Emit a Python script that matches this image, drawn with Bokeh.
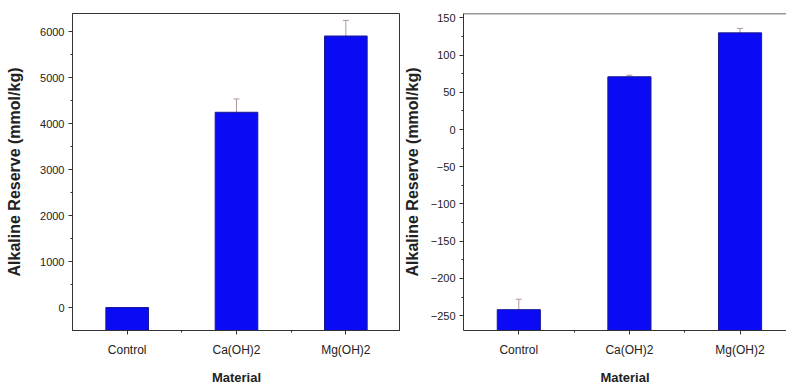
from bokeh.plotting import figure
from bokeh.layouts import row
from bokeh.models import ColumnDataSource, Whisker, TeeHead, FixedTicker, Range1d, Span
from bokeh.embed import file_html
from bokeh.resources import INLINE

materials = ["Control", "Ca(OH)2", "Mg(OH)2"]
left_values = [0, 4250, 5910]
left_errors = [0, 290, 340]
right_values = [-242, 71, 130]
right_errors = [14, 2, 6]
left_ticks = [0, 1000, 2000, 3000, 4000, 5000, 6000]
right_ticks = [-250, -200, -150, -100, -50, 0, 50, 100, 150]

FONT = "Liberation Sans"
BAR = "#0a0af5"
ERR = "#b0959c"


def make_panel(values, errors, yticks, ystart, yend, xend, width, border_left, standoff, full_frame):
    x = [i + 1 for i in range(len(materials))]
    src = ColumnDataSource(dict(
        x=x, top=values,
        upper=[v + e for v, e in zip(values, errors)],
        lower=[v - e for v, e in zip(values, errors)],
    ))
    p = figure(width=width, height=387, output_backend="svg", toolbar_location=None,
               x_range=Range1d(0.5, xend), y_range=Range1d(ystart, yend),
               min_border_left=border_left, min_border_right=0,
               min_border_top=13, min_border_bottom=54)
    p.vbar(x="x", top="top", bottom=ystart, width=0.39, source=src,
           fill_color=BAR, line_color="#1a1a90", line_width=1)
    p.add_layout(Whisker(source=src, base="x", upper="upper", lower="lower",
                         line_color=ERR, line_width=1,
                         upper_head=TeeHead(size=6, line_color=ERR, line_width=1),
                         lower_head=None))
    p.grid.visible = False
    if full_frame:
        p.outline_line_color = "#333333"
        p.outline_line_width = 1
    else:
        p.outline_line_color = None
        p.add_layout(Span(location=yend, dimension="width", line_color="#333333", line_width=1.5))
    p.background_fill_color = "white"
    p.border_fill_color = "white"

    p.xaxis.ticker = FixedTicker(ticks=x, minor_ticks=[1.5, 2.5])
    p.xaxis.major_label_overrides = {i + 1: m for i, m in enumerate(materials)}
    p.yaxis.ticker = FixedTicker(ticks=yticks,
                                 minor_ticks=[t + (yticks[1] - yticks[0]) / 2 for t in yticks])
    for ax in (p.xaxis[0], p.yaxis[0]):
        ax.axis_line_color = "#333333"
        ax.major_tick_line_color = "#333333"
        ax.minor_tick_line_color = "#333333"
        ax.major_tick_out = 4
        ax.major_tick_in = 0
        ax.minor_tick_out = 2
        ax.minor_tick_in = 0
        ax.major_label_text_font = FONT
        ax.major_label_text_color = "#222222"
        ax.axis_label_text_font = FONT
        ax.axis_label_text_font_style = "bold"
        ax.axis_label_text_color = "#222222"
    p.xaxis.major_label_text_font_size = "12px"
    p.yaxis.major_label_text_font_size = "11px"
    p.xaxis.major_label_standoff = 8
    p.yaxis.major_label_standoff = 4
    p.xaxis.axis_label = "Material"
    p.xaxis.axis_label_text_font_size = "13px"
    p.xaxis.axis_label_standoff = 10
    p.yaxis.axis_label = "Alkaline Reserve (mmol/kg)"
    p.yaxis.axis_label_text_font_size = "16px"
    p.yaxis.axis_label_standoff = standoff
    return p


left = make_panel(left_values, left_errors, left_ticks, -500, 6400, 3.5, 400, 72, 14, True)
right = make_panel(right_values, right_errors, right_ticks, -270, 156, 3.42, 386, 62, 7, False)

layout = row(left, right, spacing=0)
open("out.html", "w").write(file_html(layout, INLINE))
